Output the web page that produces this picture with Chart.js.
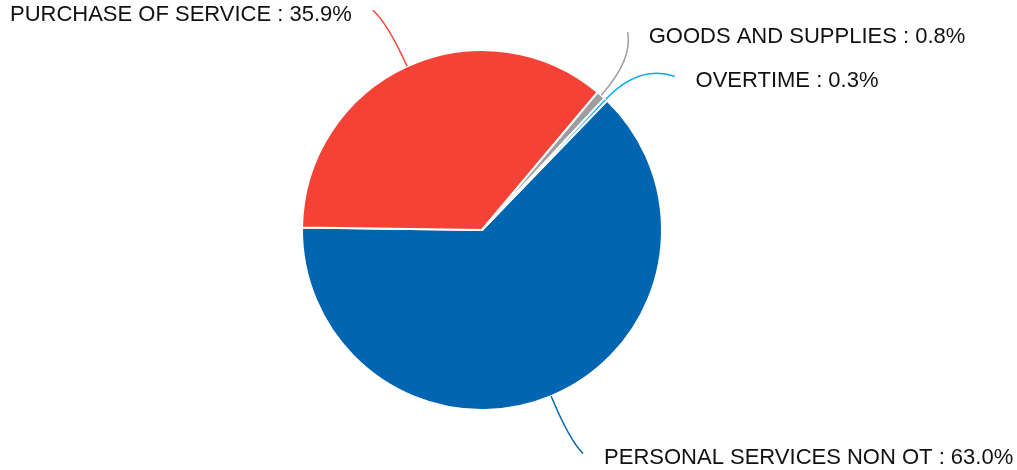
<!DOCTYPE html>
<html>
<head>
<meta charset="utf-8">
<script src="https://cdn.jsdelivr.net/npm/chart.js@4.4.0/dist/chart.umd.min.js"></script>
<style>
  html, body { margin: 0; padding: 0; background: #fff; }
  #wrap { width: 1017px; height: 470px; }
</style>
</head>
<body>
<div id="wrap"><canvas id="pie" width="1017" height="470"></canvas></div>
<script>
// data
const labels = ['PERSONAL SERVICES NON OT', 'PURCHASE OF SERVICE', 'GOODS AND SUPPLIES', 'OVERTIME'];
const values = [63.0, 35.9, 0.8, 0.3];
const colors = ['#0165B2', '#F44336', '#9E9E9E', '#03A9F4'];

// small angle nudge (deg) for label anchors so tiny slices don't collide
const labelNudge = [-1.1, -1.2, -5.7, 7.5];

const outLabels = {
    id: 'outLabels',
    afterDatasetsDraw(chart) {
        const ctx = chart.ctx;
        const meta = chart.getDatasetMeta(0);
        ctx.save();
        ctx.font = '22px "Liberation Sans", Arial, sans-serif';
        ctx.textBaseline = 'middle';
        meta.data.forEach(function (arc, i) {
            const p = arc.getProps(['x', 'y', 'startAngle', 'endAngle', 'outerRadius'], true);
            const mid = (p.startAngle + p.endAngle) / 2;
            const a2 = mid + labelNudge[i] * Math.PI / 180;
            const r = p.outerRadius;
            const sx = p.x + Math.cos(mid) * r;
            const sy = p.y + Math.sin(mid) * r;
            const ex0 = p.x + Math.cos(a2) * (r + 64);
            const ey = p.y + Math.sin(a2) * (r + 64);
            const right = Math.cos(a2) >= 0;
            const ex = ex0 + (right ? 3 : -3);
            // control point pulled back along the slice direction so the lead bends
            const qx = p.x + Math.cos(mid) * (r + 48);
            const qy = p.y + Math.sin(mid) * (r + 48);

            ctx.strokeStyle = colors[i];
            ctx.lineWidth = 1.5;
            ctx.beginPath();
            ctx.moveTo(sx, sy);
            ctx.quadraticCurveTo(qx, qy, ex, ey);
            ctx.stroke();

            ctx.fillStyle = '#111';
            ctx.textAlign = right ? 'left' : 'right';
            const txt = labels[i] + ' : ' + values[i].toFixed(1) + '%';
            ctx.fillText(txt, ex + (right ? 21 : -21), ey + 5);
        });
        ctx.restore();
    }
};

new Chart(document.getElementById('pie'), {
    type: 'pie',
    data: {
        labels: labels,
        datasets: [{
            data: values,
            backgroundColor: colors,
            borderColor: '#fff',
            borderWidth: 2
        }]
    },
    options: {
        responsive: false,
        devicePixelRatio: 1,
        animation: false,
        rotation: 44,
        layout: { padding: { left: 0, right: 53, top: 49, bottom: 59 } },
        plugins: {
            legend: { display: false },
            tooltip: { enabled: false }
        }
    },
    plugins: [outLabels]
});
</script>
</body>
</html>
